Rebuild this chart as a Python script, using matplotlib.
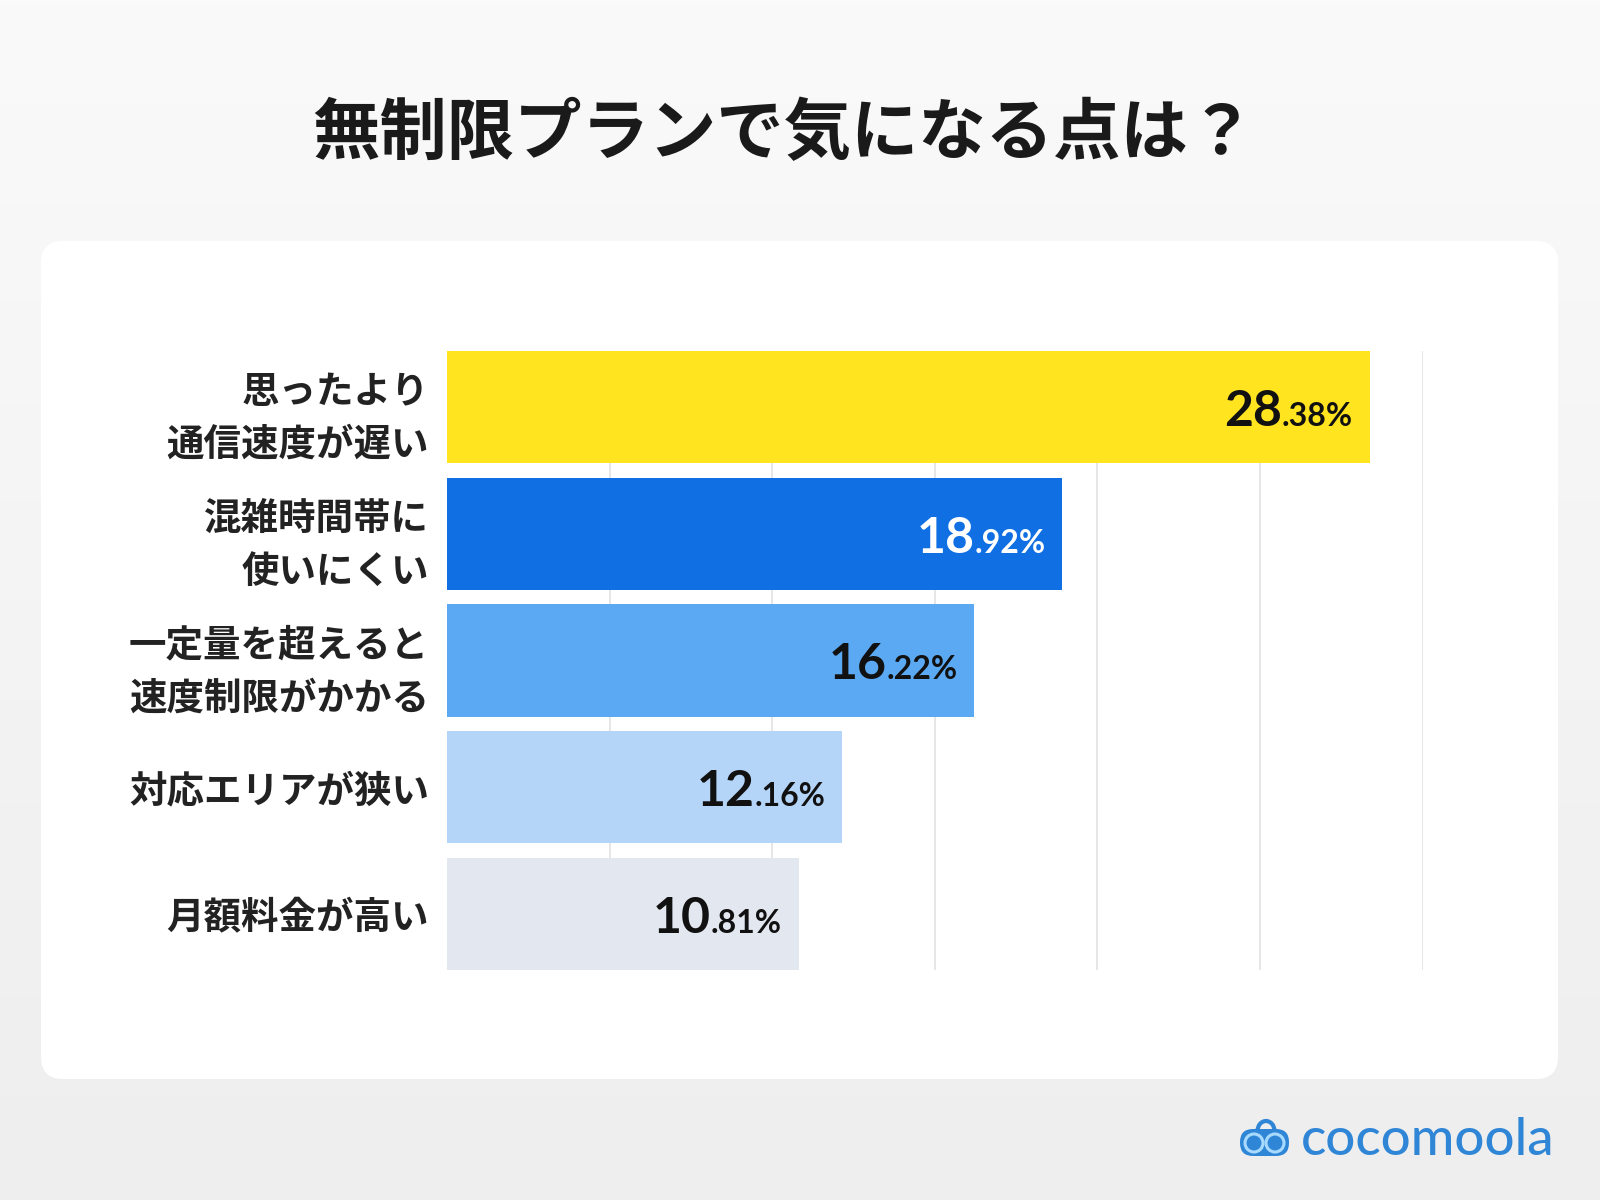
import matplotlib
matplotlib.use('Agg')
import matplotlib.pyplot as plt
import numpy as np
from matplotlib.patches import FancyBboxPatch, Circle, Arc
from matplotlib.colors import LinearSegmentedColormap

plt.rcParams['font.family'] = ['Noto Sans CJK JP', 'DejaVu Sans']

# data
categories = ['思ったより\n通信速度が遅い', '混雑時間帯に\n使いにくい',
              '一定量を超えると\n速度制限がかかる', '対応エリアが狭い', '月額料金が高い']
values = [28.38, 18.92, 16.22, 12.16, 10.81]
bar_colors = ['#FFE41F', '#0F6FE3', '#5BA9F3', '#B5D5F8', '#E3E8F0']
label_colors = ['#111111', '#FFFFFF', '#111111', '#111111', '#111111']
title = '無制限プランで気になる点は？'
brand = 'cocomoola'

fig = plt.figure(figsize=(16, 12), dpi=100)

# background layer in pixel units
bg = fig.add_axes([0, 0, 1, 1])
bg.set_xlim(0, 1600)
bg.set_ylim(1200, 0)
bg.axis('off')
grad = np.linspace(0, 1, 256).reshape(-1, 1)
cmap = LinearSegmentedColormap.from_list('bg', ['#FAFAFA', '#EEEEEE'])
bg.imshow(grad, cmap=cmap, extent=(0, 1600, 1200, 0), aspect='auto')
card = FancyBboxPatch((41, 241), 1517, 838, boxstyle='round,pad=0,rounding_size=22',
                      fc='white', ec='none')
bg.add_patch(card)

# logo (y axis is flipped here, so the handle arc runs 180..360)
bg.add_patch(Arc((1266, 1131), 17, 20, theta1=180, theta2=360, color='#2F86D6', lw=3))
bg.add_patch(FancyBboxPatch((1240, 1129), 49, 27, boxstyle='round,pad=0,rounding_size=13',
                            fc='#2F86D6', ec='none'))
for cx in [1254, 1275]:
    bg.add_patch(Circle((cx, 1143), 9, fc='#2F86D6', ec='#A8DAFF', lw=2.2))
bg.text(1301, 1155, brand, fontsize=38, color='#2F86D6', family=['Lato', 'DejaVu Sans'],
        fontweight='medium', va='baseline', ha='left')

fig.text(0.49, 1 - 135 / 1200, title, ha='center', va='center', fontsize=48.5,
         fontweight='bold', color='#1A1A1A')

# chart
ax = fig.add_axes([0.2794, 0.1917, 0.6097, 0.5158])
ax.patch.set_alpha(0)
y = np.arange(len(values))
ax.barh(y, values, height=0.885, color=bar_colors, zorder=2)
ax.set_xlim(0, 30)
ax.set_ylim(len(values) - 1 + 0.4425, -0.4425)
ax.set_xticks(range(5, 31, 5))
ax.tick_params(axis='x', length=0, labelbottom=False)
ax.grid(axis='x', color='#E2E2E2', lw=1.2, zorder=0)
ax.set_axisbelow(True)
ax.set_yticks(y)
ax.set_yticklabels(categories, fontsize=27, fontweight='bold', color='#222222', linespacing=1.45)
ax.tick_params(axis='y', length=0, pad=13)
for s in ax.spines.values():
    s.set_visible(False)

smalls = []
for i, v in enumerate(values):
    whole, frac = f'{v:.2f}'.split('.')
    t = ax.text(v - 0.52, i + 0.15, '.' + frac + '%', ha='right', va='baseline', fontsize=23,
                fontweight='bold', family=['Lato', 'DejaVu Sans'], color=label_colors[i], zorder=3)
    smalls.append((t, whole))

fig.canvas.draw()
r = fig.canvas.get_renderer()
for i, (t, whole) in enumerate(smalls):
    bb = t.get_window_extent(r)
    x0 = ax.transData.inverted().transform((bb.x0, bb.y0))[0]
    ax.text(x0, i + 0.15, whole, ha='right', va='baseline', fontsize=36, fontweight='bold',
            family=['Lato', 'DejaVu Sans'], color=label_colors[i], zorder=3)

fig.savefig('out.png', dpi=100)
